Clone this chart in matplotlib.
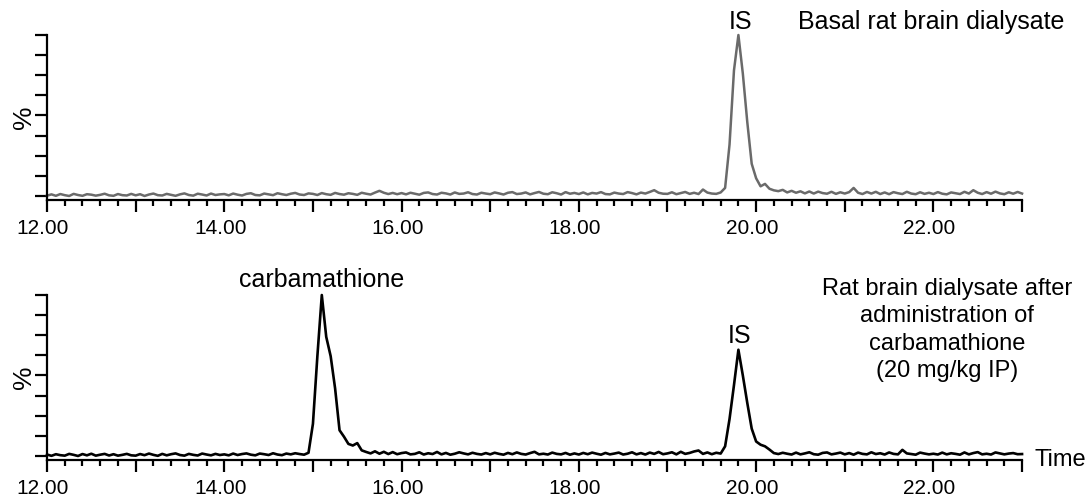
import numpy as np
import matplotlib
matplotlib.use("Agg")
import matplotlib.pyplot as plt
import matplotlib.transforms as mtransforms
from matplotlib.ticker import MultipleLocator, FuncFormatter

plt.rcParams["font.family"] = ["Liberation Sans", "DejaVu Sans"]

# scan times (min), one scan every 0.05 min from 12.00 to 23.00
scan_times = np.round(np.arange(12.0, 23.0001, 0.05), 2)

# relative intensity (%), one row per minute
basal_pct = [
    0.2, 1.0, 0.1, 1.2, 0.5, 0.0, 1.3, 0.6, 0.1, 1.1, 0.8, 0.2, 0.7, 1.4, 0.4, 0.1, 1.2, 0.5, 0.3, 1.3,
    0.4, 1.1, 0.0, 0.9, 1.5, 0.5, 0.3, 1.3, 0.7, 0.1, 1.0, 1.6, 0.6, 0.2, 1.4, 0.9, 0.3, 1.5, 0.6, 1.0,
    1.2, 0.4, 1.5, 0.8, 0.3, 1.3, 1.7, 0.6, 0.4, 1.5, 1.0, 0.5, 1.7, 1.1, 0.6, 1.4, 1.9, 0.9, 0.6, 1.6,
    1.3, 0.6, 1.8, 1.1, 0.7, 1.9, 1.2, 0.8, 1.7, 1.3, 0.7, 2.0, 1.4, 0.9, 2.1, 3.2, 2.0, 1.2, 1.9, 1.1,
    1.8, 1.0, 2.0, 1.4, 0.8, 1.9, 2.2, 1.2, 0.9, 2.0, 1.6, 0.9, 2.2, 1.3, 1.5, 2.3, 1.2, 0.9, 2.0, 1.5,
    1.1, 2.2, 1.6, 0.9, 2.0, 2.4, 1.2, 1.5, 2.2, 1.0, 1.8, 2.5, 1.4, 1.1, 2.3, 1.7, 0.9, 2.4, 1.4, 1.9,
    1.2, 2.2, 1.0, 1.9, 1.5, 2.4, 1.2, 1.0, 2.1, 1.5, 1.2, 2.4, 1.8, 1.0, 2.1, 1.5, 2.5, 3.6, 2.0, 1.4,
    1.3, 2.3, 1.1, 1.8, 2.5, 1.3, 2.0, 1.2, 4.0, 2.1, 1.5, 1.3, 2.2, 5.0, 32, 78, 100, 76, 46, 20,
    11, 6.0, 7.5, 4.5, 3.5, 3.0, 3.8, 2.2, 3.2, 2.0, 2.9, 1.6, 2.8, 1.5, 2.7, 1.8, 1.4, 2.6, 1.3, 2.3,
    1.5, 2.4, 5.0, 2.0, 1.2, 2.5, 1.5, 2.6, 1.2, 2.2, 1.1, 2.4, 1.7, 1.2, 2.6, 1.5, 1.1, 2.3, 1.3, 2.0,
    1.2, 2.4, 1.4, 1.0, 2.2, 1.7, 1.2, 2.6, 1.5, 3.6, 2.0, 1.2, 2.4, 1.4, 2.7, 1.6, 1.1, 2.3, 1.4, 2.5,
    1.5,
]

# relative intensity (%) after carbamathione administration
treated_pct = [
    0.9, 0.1, 1.1, 0.5, 0.2, 1.3, 0.7, 0.0, 1.2, 0.4, 1.4, 0.2, 0.8, 1.3, 0.3, 1.1, 0.2, 0.7, 1.3, 0.4,
    0.2, 1.2, 0.5, 1.5, 0.7, 0.1, 1.3, 0.4, 1.1, 1.6, 0.6, 0.2, 1.3, 0.7, 0.3, 1.5, 0.9, 0.4, 1.3, 0.6,
    1.0, 0.4, 1.5, 0.6, 1.2, 1.6, 0.8, 0.4, 1.5, 1.1, 0.6, 1.7, 0.9, 0.5, 1.5, 1.0, 1.7, 1.2, 0.8, 2.0,
    20, 62, 100, 74, 62, 42, 16, 12, 7.5, 6.5, 8.0, 3.5, 2.5, 1.6, 2.9, 1.4, 2.6, 1.2, 2.4, 1.1,
    1.8, 2.2, 1.0, 1.3, 2.3, 0.9, 1.7, 1.2, 2.5, 1.0, 1.9, 0.8, 1.4, 2.3, 1.6, 1.0, 2.0, 1.3, 0.9, 1.8,
    1.0, 2.0, 1.3, 0.8, 1.9, 1.1, 2.2, 1.3, 0.9, 1.8, 2.6, 1.0, 1.4, 0.9, 2.1, 1.3, 1.0, 1.9, 0.8, 1.6,
    0.9, 1.9, 1.1, 2.1, 1.4, 0.8, 1.9, 1.0, 1.5, 2.1, 0.9, 1.4, 2.3, 1.0, 1.8, 0.9, 2.1, 1.3, 2.5, 1.1,
    1.6, 2.3, 1.0, 2.6, 1.3, 1.9, 2.8, 3.4, 1.3, 2.2, 1.1, 2.0, 1.5, 6.0, 23, 44, 66, 50, 33, 17,
    9.0, 7.0, 6.0, 4.0, 1.8, 1.2, 2.0, 1.4, 0.9, 2.1, 1.0, 1.6, 2.3, 1.1, 0.8, 1.9, 2.2, 1.0, 1.5, 2.1,
    1.0, 1.8, 0.8, 2.1, 1.3, 1.0, 2.3, 1.2, 1.7, 0.9, 2.2, 1.3, 1.0, 3.8, 1.6, 1.2, 0.8, 2.1, 1.5, 1.0,
    1.4, 0.9, 2.1, 1.0, 1.7, 1.3, 0.8, 2.2, 1.0, 1.8, 2.4, 1.0, 1.4, 0.9, 2.2, 1.6, 1.0, 1.5, 1.8, 1.1,
    1.2,
]

fig = plt.figure(figsize=(10.91, 4.98), dpi=100)
ax_top = fig.add_axes([0.0431, 0.5984, 0.8937, 0.3313])
ax_bot = fig.add_axes([0.0431, 0.0763, 0.8937, 0.3313])


def even_label(x, pos):
    if abs(x - round(x)) < 1e-6 and int(round(x)) % 2 == 0 and x < 22.5:
        return "%.2f" % x
    return ""


def style_axis(ax):
    ax.set_xlim(12, 23)
    ax.set_ylim(-2.5, 100)
    for s in ["top", "right"]:
        ax.spines[s].set_visible(False)
    for s in ["left", "bottom"]:
        ax.spines[s].set_linewidth(1.6)
    ax.xaxis.set_major_locator(MultipleLocator(1))
    ax.xaxis.set_minor_locator(MultipleLocator(0.2))
    ax.xaxis.set_major_formatter(FuncFormatter(even_label))
    ax.set_yticks(np.arange(0, 100.1, 12.5))
    ax.set_yticklabels([])
    ax.tick_params(axis="x", which="major", length=8.5, width=1.6, pad=5.5, labelsize=15)
    ax.tick_params(axis="x", which="minor", length=4, width=1.6)
    ax.tick_params(axis="y", which="major", length=8.5, width=1.6)
    ax.set_ylabel("%", fontsize=19, labelpad=-4)
    # labels in the source sit a little left of their ticks
    shift = mtransforms.ScaledTranslation(-4 / 100, 0, fig.dpi_scale_trans)
    for lbl in ax.get_xticklabels():
        lbl.set_transform(lbl.get_transform() + shift)


style_axis(ax_top)
style_axis(ax_bot)

ax_top.plot(scan_times, basal_pct, color="#6a6a6a", lw=1.8, clip_on=False)
ax_bot.plot(scan_times, treated_pct, color="black", lw=1.9, clip_on=False)

ax_top.text(19.82, 104, "IS", fontsize=18, ha="center", va="baseline")
ax_top.text(20.47, 103.5, "Basal rat brain dialysate", fontsize=18, ha="left", va="baseline")

ax_bot.text(15.10, 105, "carbamathione", fontsize=18, ha="center", va="baseline")
ax_bot.text(19.81, 70, "IS", fontsize=18, ha="center", va="baseline")
ax_bot.text(22.15, 49, "Rat brain dialysate after\nadministration of\ncarbamathione\n(20 mg/kg IP)",
            fontsize=17, ha="center", va="baseline", multialignment="center", linespacing=1.32)
time_tr = mtransforms.blended_transform_factory(ax_bot.transAxes, ax_bot.transData)
ax_bot.text(1.013, -2.5, "Time", fontsize=17, ha="left", va="center", transform=time_tr)

fig.savefig("out.png", dpi=100)
